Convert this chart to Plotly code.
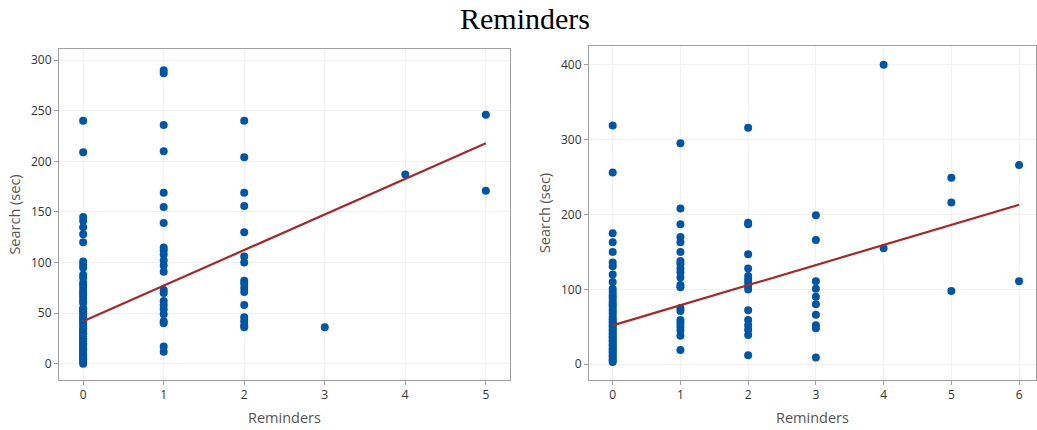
import plotly.graph_objects as go

# ---- Left panel data (Reminders vs Search) ----
left_r0 = [0, 2, 4, 5, 7, 9, 10, 12, 14, 15, 17, 19, 20, 22, 24, 25, 27, 29, 30, 32,
           34, 35, 37, 40, 42, 44, 45, 47, 50, 52, 54, 55, 60, 62, 65, 68, 70, 72, 75,
           78, 80, 85, 88, 95, 98, 101, 120, 128, 135, 141, 145, 209, 240]
left_r1 = [290, 287, 236, 210, 169, 155, 139, 115, 112, 108, 102, 97, 91, 73, 70, 62,
           58, 54, 49, 42, 40, 17, 12]
left_r2 = [240, 204, 169, 156, 130, 106, 100, 82, 79, 75, 71, 58, 46, 42, 38, 36]
left_r3 = [36]
left_r4 = [187]
left_r5 = [246, 171]
left_fit_x = [0, 5]
left_fit_y = [42, 218]

# ---- Right panel data ----
right_r0 = [319, 256, 175, 163, 150, 136, 131, 120, 110, 101, 97, 93, 90, 87, 83, 80,
            77, 73, 70, 67, 63, 60, 57, 55, 52, 50, 47, 45, 42, 40, 37, 35, 32, 30, 27,
            25, 22, 20, 17, 15, 12, 10, 7, 5, 3]
right_r1 = [295, 208, 187, 170, 163, 150, 138, 134, 128, 123, 116, 106, 103, 75, 71,
            59, 55, 50, 45, 38, 19]
right_r2 = [316, 189, 187, 147, 128, 118, 113, 109, 104, 100, 72, 59, 52, 46, 39, 12]
right_r3 = [199, 166, 111, 101, 90, 80, 66, 52, 48, 9]
right_r4 = [400, 155]
right_r5 = [249, 216, 98]
right_r6 = [266, 111]
right_fit_x = [0, 6]
right_fit_y = [52, 213]

left_groups = [left_r0, left_r1, left_r2, left_r3, left_r4, left_r5]
right_groups = [right_r0, right_r1, right_r2, right_r3, right_r4, right_r5, right_r6]

def flatten(groups):
    xs, ys = [], []
    for k, g in enumerate(groups):
        xs += [k] * len(g)
        ys += g
    return xs, ys

lx, ly = flatten(left_groups)
rx, ry = flatten(right_groups)

DOT = "#0055a5"
LINE = "#a22a2a"

fig = go.Figure()
fig.add_trace(go.Scatter(x=lx, y=ly, mode="markers",
                         marker=dict(color=DOT, size=8), xaxis="x", yaxis="y",
                         showlegend=False))
fig.add_trace(go.Scatter(x=left_fit_x, y=left_fit_y, mode="lines",
                         line=dict(color=LINE, width=2.2), xaxis="x", yaxis="y",
                         showlegend=False))
fig.add_trace(go.Scatter(x=rx, y=ry, mode="markers",
                         marker=dict(color=DOT, size=8), xaxis="x2", yaxis="y2",
                         showlegend=False))
fig.add_trace(go.Scatter(x=right_fit_x, y=right_fit_y, mode="lines",
                         line=dict(color=LINE, width=2.2), xaxis="x2", yaxis="y2",
                         showlegend=False))

tickfont = dict(family="Open Sans, Noto Sans, sans-serif", size=12, color="#333333")
titlefont = dict(family="Open Sans, Noto Sans, sans-serif", size=14.5, color="#555555")
axcommon = dict(showline=True, mirror=True, linecolor="#a0a0a0", linewidth=1,
                showgrid=True, gridcolor="#f0f0f0", gridwidth=1, zeroline=False,
                ticks="outside", ticklen=4, tickcolor="#a0a0a0", tickfont=tickfont,
                automargin=False)

W, H = 1037, 430
fig.update_layout(
    width=W, height=H,
    margin=dict(l=0, r=0, t=0, b=0, autoexpand=False),
    paper_bgcolor="white", plot_bgcolor="white",
    title=dict(text="Reminders", x=525 / W, xanchor="center", y=1 - 18 / H, yanchor="middle",
               yref="container", automargin=False,
               font=dict(family="Liberation Serif, Times New Roman, serif", size=30, color="#000")),
    xaxis=dict(domain=[59 / W, 510 / W], range=[-0.3, 5.3], tickvals=[0, 1, 2, 3, 4, 5],
               title=dict(text="Reminders", font=titlefont, standoff=10), anchor="y", **axcommon),
    yaxis=dict(domain=[(H - 380) / H, (H - 49) / H], range=[-16, 311],
               tickvals=[0, 50, 100, 150, 200, 250, 300],
               title=dict(text="Search (sec)", font=titlefont, standoff=6), anchor="x", **axcommon),
    xaxis2=dict(domain=[589 / W, 1036 / W], range=[-0.35, 6.25], tickvals=[0, 1, 2, 3, 4, 5, 6],
                title=dict(text="Reminders", font=titlefont, standoff=10), anchor="y2", **axcommon),
    yaxis2=dict(domain=[(H - 380) / H, (H - 46) / H], range=[-21, 425],
                tickvals=[0, 100, 200, 300, 400],
                title=dict(text="Search (sec)", font=titlefont, standoff=6), anchor="x2", **axcommon),
)

fig.write_html("out.html", config={"displayModeBar": False},
               post_script="document.body.style.margin='0';document.body.style.overflow='hidden';")
